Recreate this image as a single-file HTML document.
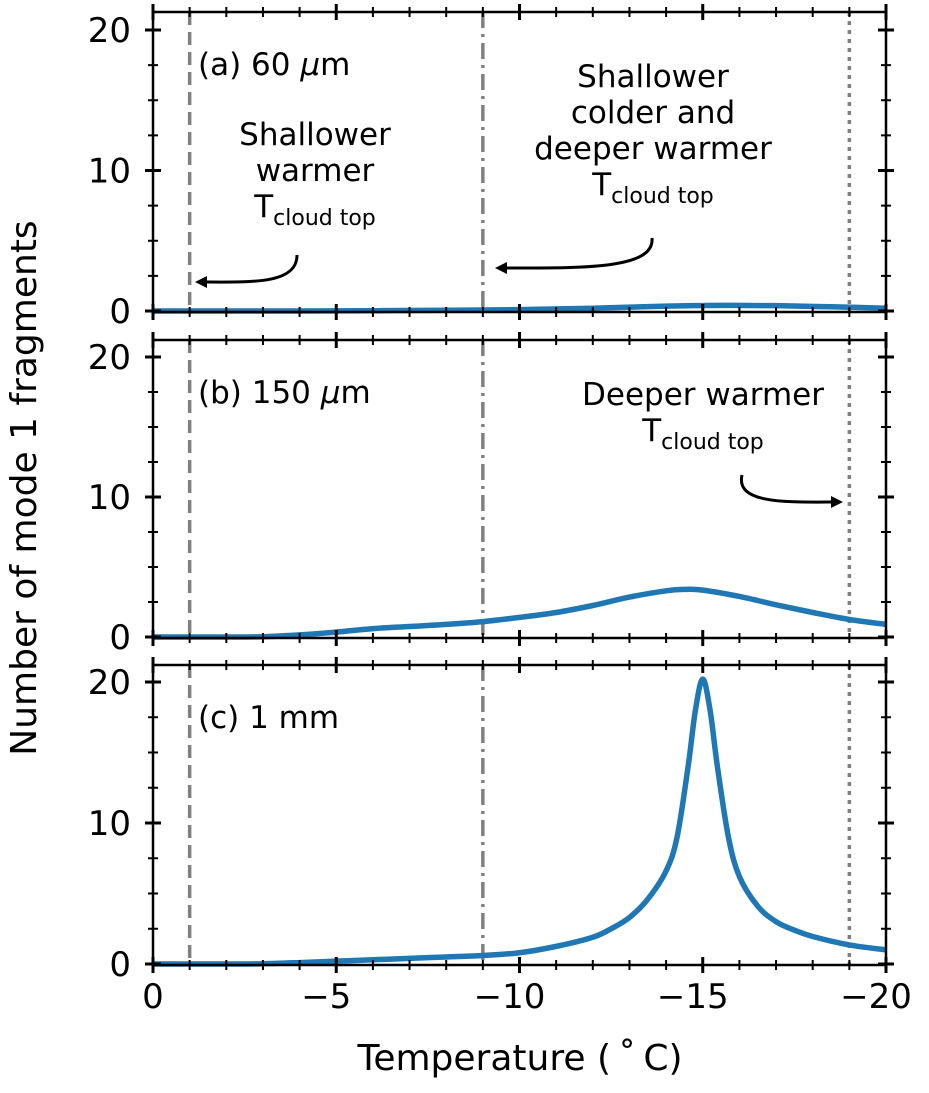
<!DOCTYPE html>
<html><head><meta charset="utf-8"><style>
body{margin:0;background:#fff}
svg text{font-family:"DejaVu Sans","Liberation Sans",sans-serif;fill:#000}
</style></head><body>
<svg width="929" height="1088" viewBox="0 0 929 1088" id="c">
<defs><marker id="ah" markerWidth="12" markerHeight="12" refX="9" refY="6" orient="auto" markerUnits="userSpaceOnUse" viewBox="0 0 12 12"><path d="M0,0 L12,6 L0,12 z" fill="#000"/></marker></defs>
</svg>
<script>
const xsA=[0,-2,-4,-6,-8,-10,-12,-14,-15.5,-17,-18.5,-20];
const ysA=[0,0,0,0.02,0.05,0.1,0.2,0.35,0.4,0.38,0.3,0.2];
const xsB=[0,-2,-3,-4,-5,-6,-7,-8,-9,-10,-11,-12,-13,-14,-14.5,-15,-16,-17,-18,-19,-20];
const ysB=[0,0,0.02,0.15,0.35,0.6,0.75,0.9,1.1,1.4,1.75,2.25,2.85,3.3,3.4,3.35,2.9,2.3,1.75,1.25,0.9];
const xsC=[0,-2,-3,-4,-5,-6,-7,-8,-9,-10,-11,-12,-12.5,-13,-13.5,-14,-14.3,-14.6,-14.8,-15,-15.2,-15.4,-15.7,-16,-16.5,-17,-17.5,-18,-19,-20];
const ysC=[0,0,0.02,0.1,0.2,0.3,0.4,0.5,0.6,0.8,1.25,1.9,2.5,3.3,4.6,6.6,9,14,18,20.2,18,14,9,6.2,4.1,3.0,2.4,1.95,1.35,1.0];
const xTicks=[0,-5,-10,-15,-20];
const yTicks=[0,10,20];
const panelLabels=["(a) 60 ","(b) 150 ","(c) 1 mm"];
const vlines=[-1,-9,-19];
const NS="http://www.w3.org/2000/svg";
const svg=document.getElementById('c');
const L=153,R=886;
const panels=[{top:12,bot:312,y0:311,y20:30},{top:340,bot:638,y0:637,y20:357},{top:665,bot:965,y0:964,y20:682}];
const series=[[xsA,ysA],[xsB,ysB],[xsC,ysC]];
function X(t){return L+(t/-20)*(R-L);}
function mk(tag,at,parent){const e=document.createElementNS(NS,tag);for(const k in at)e.setAttribute(k,at[k]);(parent||svg).appendChild(e);return e;}
function smooth(pts){let d=`M${pts[0][0]},${pts[0][1]}`;for(let i=0;i<pts.length-1;i++){const p0=pts[i-1]||pts[i],p1=pts[i],p2=pts[i+1],p3=pts[i+2]||p2;
d+=` C${p1[0]+(p2[0]-p0[0])/6},${p1[1]+(p2[1]-p0[1])/6} ${p2[0]-(p3[0]-p1[0])/6},${p2[1]-(p3[1]-p1[1])/6} ${p2[0]},${p2[1]}`;}return d;}
panels.forEach((p,i)=>{
 const g=mk('g',{});
 
 
 const Y=v=>p.y0+(v/20)*(p.y20-p.y0);
 const dashes=['13,7','16,6,3,6','4,5'];
 vlines.forEach((v,j)=>{const l=mk('line',{x1:X(v),x2:X(v),y1:p.top,y2:p.bot,stroke:'#808080','stroke-width':3.5,'stroke-dasharray':dashes[j]},g);
  
  });
 const [xs,ys]=series[i];
 const pts=xs.map((x,k)=>[X(x),Y(ys[k])]);
 const c=mk('path',{d:smooth(pts),fill:'none',stroke:'#1f77b4','stroke-width':5.5},g);
 
 
 const fr=mk('rect',{x:L,y:p.top,width:R-L,height:p.bot-p.top,fill:'none',stroke:'#000','stroke-width':2.5},g);
 
 
 for(let t=0;t>=-20;t--){const major=t%5===0;const h=major?8:5;
  [p.top,p.bot].forEach(yy=>mk('line',{x1:X(t),x2:X(t),y1:yy-h,y2:yy+h,stroke:'#000','stroke-width':major?3:2},g));}
 for(let v=0;v<=21;v+=2.5){const major=v%10===0;const h=major?8:5;const yy=Y(v);
  [L,R].forEach(xx=>mk('line',{x1:xx-h,x2:xx+h,y1:yy,y2:yy,stroke:'#000','stroke-width':major?3:2},g));}
 yTicks.forEach(v=>{const t=mk('text',{x:L-22,y:Y(v)+12,'text-anchor':'end','font-size':34},g);t.textContent=v;
  
  });
 const pl=mk('text',{x:198,y:p.top+63,'font-size':31},g);pl.textContent=panelLabels[i];
 if(i<2){const ts=document.createElementNS(NS,'tspan');ts.setAttribute('font-style','italic');ts.textContent='\u03bc';pl.appendChild(ts);pl.appendChild(document.createTextNode('m'));}
 
 
});
xTicks.forEach(v=>{const t=mk('text',{x:X(v)-(v<0?10:0),y:1008,'text-anchor':'middle','font-size':34});t.textContent=v===0?'0':'\u2212'+(-v);
 
 });
const xt=mk('text',{x:520,y:1070,'text-anchor':'middle','font-size':36});xt.textContent='Temperature (\u2009\u02da\u2009C)';


const yt=mk('text',{x:0,y:0,'text-anchor':'middle','font-size':36,transform:'translate(36,488) rotate(-90)'});yt.textContent='Number of mode 1 fragments';


function ann(lines,x,y0,name){const g=mk('g',{});
 lines.forEach((s,k)=>{const t=mk('text',{x:x,y:y0+k*36,'text-anchor':'middle','font-size':31},g);
  if(s==='T'){t.innerHTML='T<tspan font-size="22" dy="8">cloud top</tspan>';}else t.textContent=s;});}
ann(['Shallower','warmer','T'],315,145,'annotation-shallower-warmer');
ann(['Shallower','colder and','deeper warmer','T'],653,87,'annotation-shallower-colder');
ann(['Deeper warmer','T'],703,405,'annotation-deeper-warmer');
[['M297,255 C297,285 250,282 198,282','arrow-a1'],['M652,238 C655,270 580,268 498,268','arrow-a2'],['M742,475 C735,505 790,502 840,502','arrow-b']].forEach(([d,n])=>{
 const a=mk('path',{d:d,fill:'none',stroke:'#000','stroke-width':3,'marker-end':'url(#ah)'});
 
 });
</script>
</body></html>
